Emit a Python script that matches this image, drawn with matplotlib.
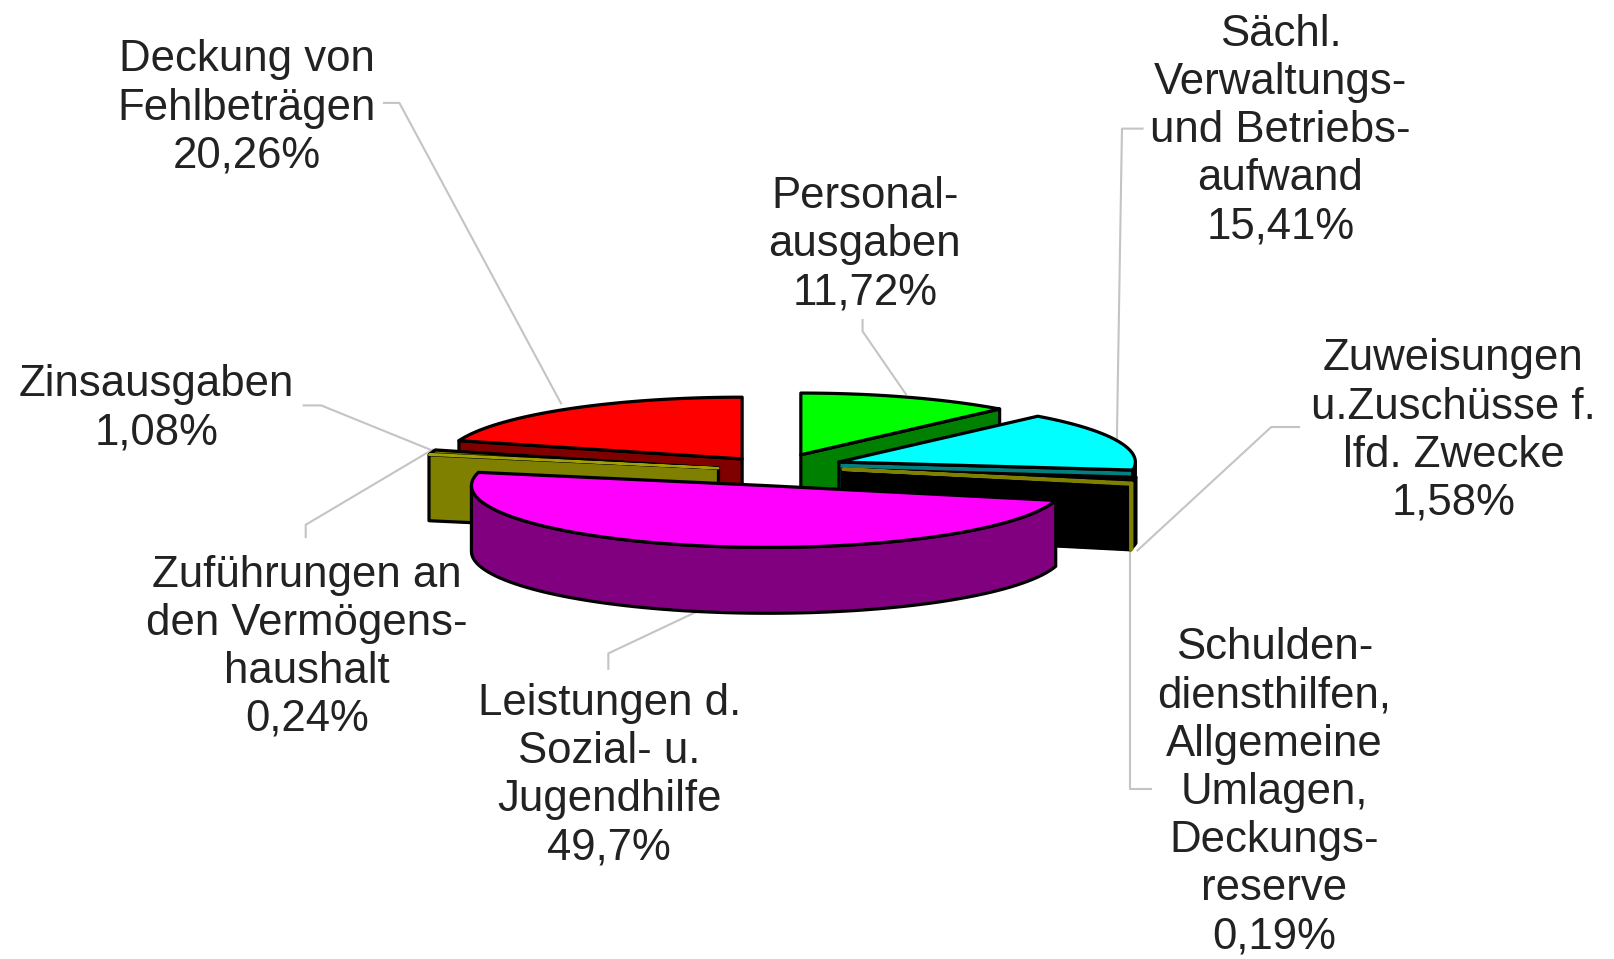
import numpy as np
import matplotlib
matplotlib.use('Agg')
import matplotlib.pyplot as plt

plt.rcParams['font.family'] = ['Liberation Sans', 'DejaVu Sans']

# Werte im Uhrzeigersinn ab 12 Uhr
values = [11.72, 15.41, 1.58, 0.19, 49.7, 0.24, 1.08, 20.26]
labels = ['Personal-\nausgaben\n11,72%',
          'Sächl.\nVerwaltungs-\nund Betriebs-\naufwand\n15,41%',
          'Zuweisungen\nu.Zuschüsse f.\nlfd. Zwecke\n1,58%',
          'Schulden-\ndiensthilfen,\nAllgemeine\nUmlagen,\nDeckungs-\nreserve\n0,19%',
          'Leistungen d.\nSozial- u.\nJugendhilfe\n49,7%',
          'Zuführungen an\nden Vermögens-\nhaushalt\n0,24%',
          'Zinsausgaben\n1,08%',
          'Deckung von\nFehlbeträgen\n20,26%']

top_colors = ['#00FF00', '#00FFFF', '#000000', '#808000', '#FF00FF', '#B0B000', '#808000', '#FF0000']
side_colors = ['#008000', '#008080', '#000000', '#000000', '#800080', '#808000', '#808000', '#800000']
rim_colors = ['#008000', '#000000', '#000000', '#808000', '#800080', '#808000', '#808000', '#800000']
edge_colors = ['k', 'k', 'k', '#808000', 'k', '#A0A000', 'k', 'k']
edge_widths = [2.3, 2.3, 2.3, 2.5, 2.3, 1.5, 2.3, 2.3]

# Lage der Spitzen der herausgezogenen Stücke
center_x = [778, 815, 818, 819, 746, 698, 698, 721]
center_y = [442, 449, 456, 456, 472, 455, 455, 446]
draw_order = [7, 0, 1, 2, 3, 6, 5, 4]

rx = 288.
ry = 60.
depth = 64.

label_x = [840, 1244, 1412, 1238, 592, 298, 152, 240]
label_y = [238, 127, 419, 770, 754, 629, 397, 105]

leader_x = [[838, 838, 880], [1110, 1090, 1085], [1262, 1235, 1105], [1118, 1098, 1098],
            [591, 591, 680], [297, 297, 420], [295, 312, 418], [373, 388, 545]]
leader_y = [[311, 322, 383], [125, 125, 430], [415, 415, 535], [767, 767, 535],
            [650, 635, 593], [522, 510, 437], [394, 394, 437], [100, 100, 392]]


def rim_xy(cx, cy, a1, a2):
    t = np.radians(np.linspace(a1, a2, 80))
    return cx + rx*np.sin(t), cy - ry*np.cos(t)


def draw_slice(i, a1, a2):
    cx = center_x[i]
    cy = center_y[i]
    lw = edge_widths[i]
    ec = edge_colors[i]
    kw = dict(lw=lw, joinstyle='round')
    # Schnittflächen
    for a, visible in ((a2, a2 < 180), (a1, a1 > 180)):
        if visible:
            x, y = rim_xy(cx, cy, a, a)
            ax.fill([cx, x[0], x[0], cx], [cy, y[0], y[0]+depth, cy+depth],
                    fc=side_colors[i], ec='k', lw=2.3, joinstyle='round')
    # Außenrand vorne
    b1 = max(a1, 90)
    b2 = min(a2, 270)
    if b2 > b1:
        x, y = rim_xy(cx, cy, b1, b2)
        ax.fill(np.r_[x, x[::-1]], np.r_[y, y[::-1]+depth],
                fc=rim_colors[i], ec='k' if i != 3 else rim_colors[i], **kw)
    # Deckfläche
    x, y = rim_xy(cx, cy, a1, a2)
    ax.fill(np.r_[cx, x], np.r_[cy, y], fc=top_colors[i], ec=ec, **kw)


fig = plt.figure(figsize=(16.14, 9.59), dpi=100)
ax = fig.add_axes([0, 0, 1, 1])
ax.set_xlim(0, 1568)
ax.set_ylim(932, 0)
ax.axis('off')

for lx, ly in zip(leader_x, leader_y):
    ax.plot(lx, ly, color='#c4c4c4', lw=1.5, zorder=0)

edges = np.r_[0, np.cumsum(values)] / sum(values) * 360.
for i in draw_order:
    draw_slice(i, edges[i], edges[i+1])

for i in range(len(labels)):
    ax.text(label_x[i], label_y[i], labels[i], ha='center', va='center', ma='center',
            fontsize=31.5, color='#222222', linespacing=1.222)

fig.savefig('out.png', dpi=100)
